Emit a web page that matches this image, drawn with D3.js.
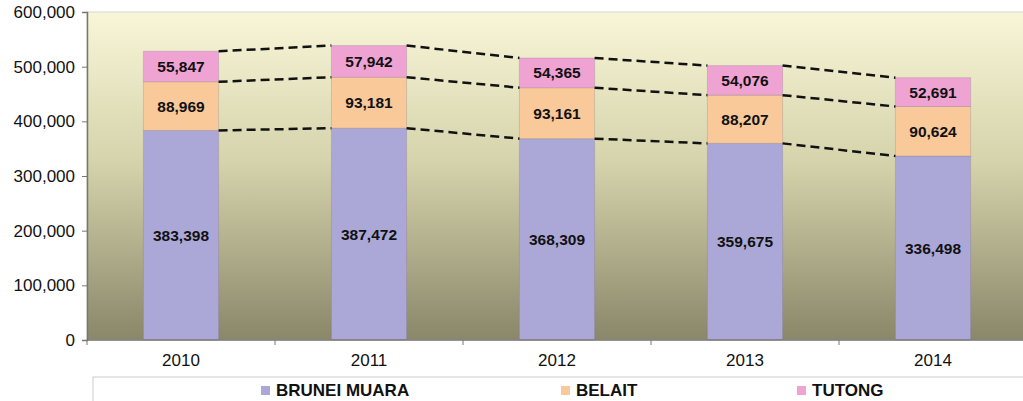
<!DOCTYPE html>
<html>
<head>
<meta charset="utf-8">
<script src="https://cdn.jsdelivr.net/npm/d3@7"></script>
<style>
  body { margin: 0; background: #fff; }
  svg { display: block; font-family: "Liberation Sans", Arial, sans-serif; }
</style>
</head>
<body>
<div id="chart"></div>
<script>
// data
var years = ["2010", "2011", "2012", "2013", "2014"];
var bruneiMuara = [383398, 387472, 368309, 359675, 336498];
var belait = [88969, 93181, 93161, 88207, 90624];
var tutong = [55847, 57942, 54365, 54076, 52691];
var seriesNames = ["BRUNEI MUARA", "BELAIT", "TUTONG"];
var yTicks = [0, 100000, 200000, 300000, 400000, 500000, 600000];

var colors = ["#aba8d8", "#f9c999", "#efa3d2"];

// plot box (note: "top" is reserved on window, so use a margin object)
var W = 1023, H = 401;
var plot = {left: 87, right: 1027, top: 12, bottom: 340};

// build rows for the stack
var rows = years.map(function(y, i) {
  return { year: y, "BRUNEI MUARA": bruneiMuara[i], "BELAIT": belait[i], "TUTONG": tutong[i] };
});
var stacked = d3.stack().keys(seriesNames)(rows);

var x = d3.scaleBand().domain(years).range([plot.left, plot.right]).paddingInner(0.6).paddingOuter(0.3);
var y = d3.scaleLinear().domain([0, 600000]).range([plot.bottom, plot.top]);

var svg = d3.select("#chart").append("svg")
  .attr("width", W).attr("height", H);

// plot background gradient
var defs = svg.append("defs");
var grad = defs.append("linearGradient").attr("id", "bg")
  .attr("x1", 0).attr("y1", 0).attr("x2", 0).attr("y2", 1);
grad.append("stop").attr("offset", "0%").attr("stop-color", "#f8f6d8");
grad.append("stop").attr("offset", "45%").attr("stop-color", "#d6d4ac");
grad.append("stop").attr("offset", "100%").attr("stop-color", "#8a876a");

svg.append("rect")
  .attr("x", plot.left).attr("y", plot.top)
  .attr("width", plot.right - plot.left).attr("height", plot.bottom - plot.top)
  .attr("fill", "url(#bg)")
  .attr("stroke", "#d8d8c8");

// bars
var groups = svg.selectAll(".series")
  .data(stacked)
  .enter().append("g")
  .attr("class", "series")
  .attr("fill", function(d, i) { return colors[i]; });

groups.selectAll("rect")
  .data(function(d) { return d; })
  .enter().append("rect")
  .attr("x", function(d) { return x(d.data.year); })
  .attr("width", x.bandwidth())
  .attr("y", function(d) { return y(d[1]); })
  .attr("height", function(d) { return y(d[0]) - y(d[1]); })
  .attr("stroke", "rgba(120,110,140,0.25)");

// value labels
groups.selectAll("text")
  .data(function(d) { return d; })
  .enter().append("text")
  .attr("x", function(d) { return x(d.data.year) + x.bandwidth() / 2; })
  .attr("y", function(d) { return (y(d[0]) + y(d[1])) / 2 + 5.5; })
  .attr("text-anchor", "middle")
  .attr("font-size", "15.5px")
  .attr("font-weight", "bold")
  .attr("fill", "#111")
  .text(function(d) { return d3.format(",")(d[1] - d[0]); });

// dashed connector lines between bar boundaries
stacked.forEach(function(s) {
  for (var i = 0; i < years.length - 1; i++) {
    svg.append("line")
      .attr("x1", x(years[i]) + x.bandwidth())
      .attr("y1", y(s[i][1]))
      .attr("x2", x(years[i + 1]))
      .attr("y2", y(s[i + 1][1]))
      .attr("stroke", "#111")
      .attr("stroke-width", 2.5)
      .attr("stroke-dasharray", "9,5");
  }
});

// y axis
var yAxis = svg.append("g")
  .attr("transform", "translate(" + plot.left + ",0)")
  .call(d3.axisLeft(y).tickValues(yTicks).tickFormat(d3.format(",")).tickSize(5).tickPadding(7));
yAxis.selectAll("text").attr("font-size", "17px").attr("fill", "#111")
  .attr("font-family", "Liberation Sans, Arial, sans-serif");
yAxis.selectAll("line, path").attr("stroke", "#777");
yAxis.select(".domain").attr("stroke-width", 1.5);

// x axis with ticks between categories
var xAxis = svg.append("g")
  .attr("transform", "translate(0," + plot.bottom + ")");
xAxis.append("line")
  .attr("x1", plot.left).attr("x2", plot.right)
  .attr("stroke", "#777").attr("stroke-width", 1.5);
var step = x.step();
var bounds = years.map(function(d) { return x(d) - (step - x.bandwidth()) / 2; });
bounds.push(bounds[bounds.length - 1] + step);
xAxis.selectAll(".tk").data(bounds).enter().append("line")
  .attr("x1", function(d) { return d; }).attr("x2", function(d) { return d; })
  .attr("y1", 0).attr("y2", 5).attr("stroke", "#777");
xAxis.selectAll(".lbl").data(years).enter().append("text")
  .attr("x", function(d) { return x(d) + x.bandwidth() / 2; })
  .attr("y", 26)
  .attr("text-anchor", "middle")
  .attr("font-size", "17px")
  .attr("fill", "#111")
  .text(function(d) { return d; });

// legend
svg.append("rect")
  .attr("x", 93).attr("y", 377).attr("width", 940).attr("height", 40)
  .attr("fill", "#fff").attr("stroke", "#ccc");
var legendX = [261, 561, 797];
var legend = svg.selectAll(".legend")
  .data(seriesNames)
  .enter().append("g")
  .attr("transform", function(d, i) { return "translate(" + legendX[i] + ",383)"; });
legend.append("rect")
  .attr("width", 9).attr("height", 9)
  .attr("y", 3)
  .attr("fill", function(d, i) { return colors[i]; });
legend.append("text")
  .attr("x", 15).attr("y", 13)
  .attr("font-size", "17px")
  .attr("font-weight", "bold")
  .attr("fill", "#111")
  .text(function(d) { return d; });
</script>
</body>
</html>
